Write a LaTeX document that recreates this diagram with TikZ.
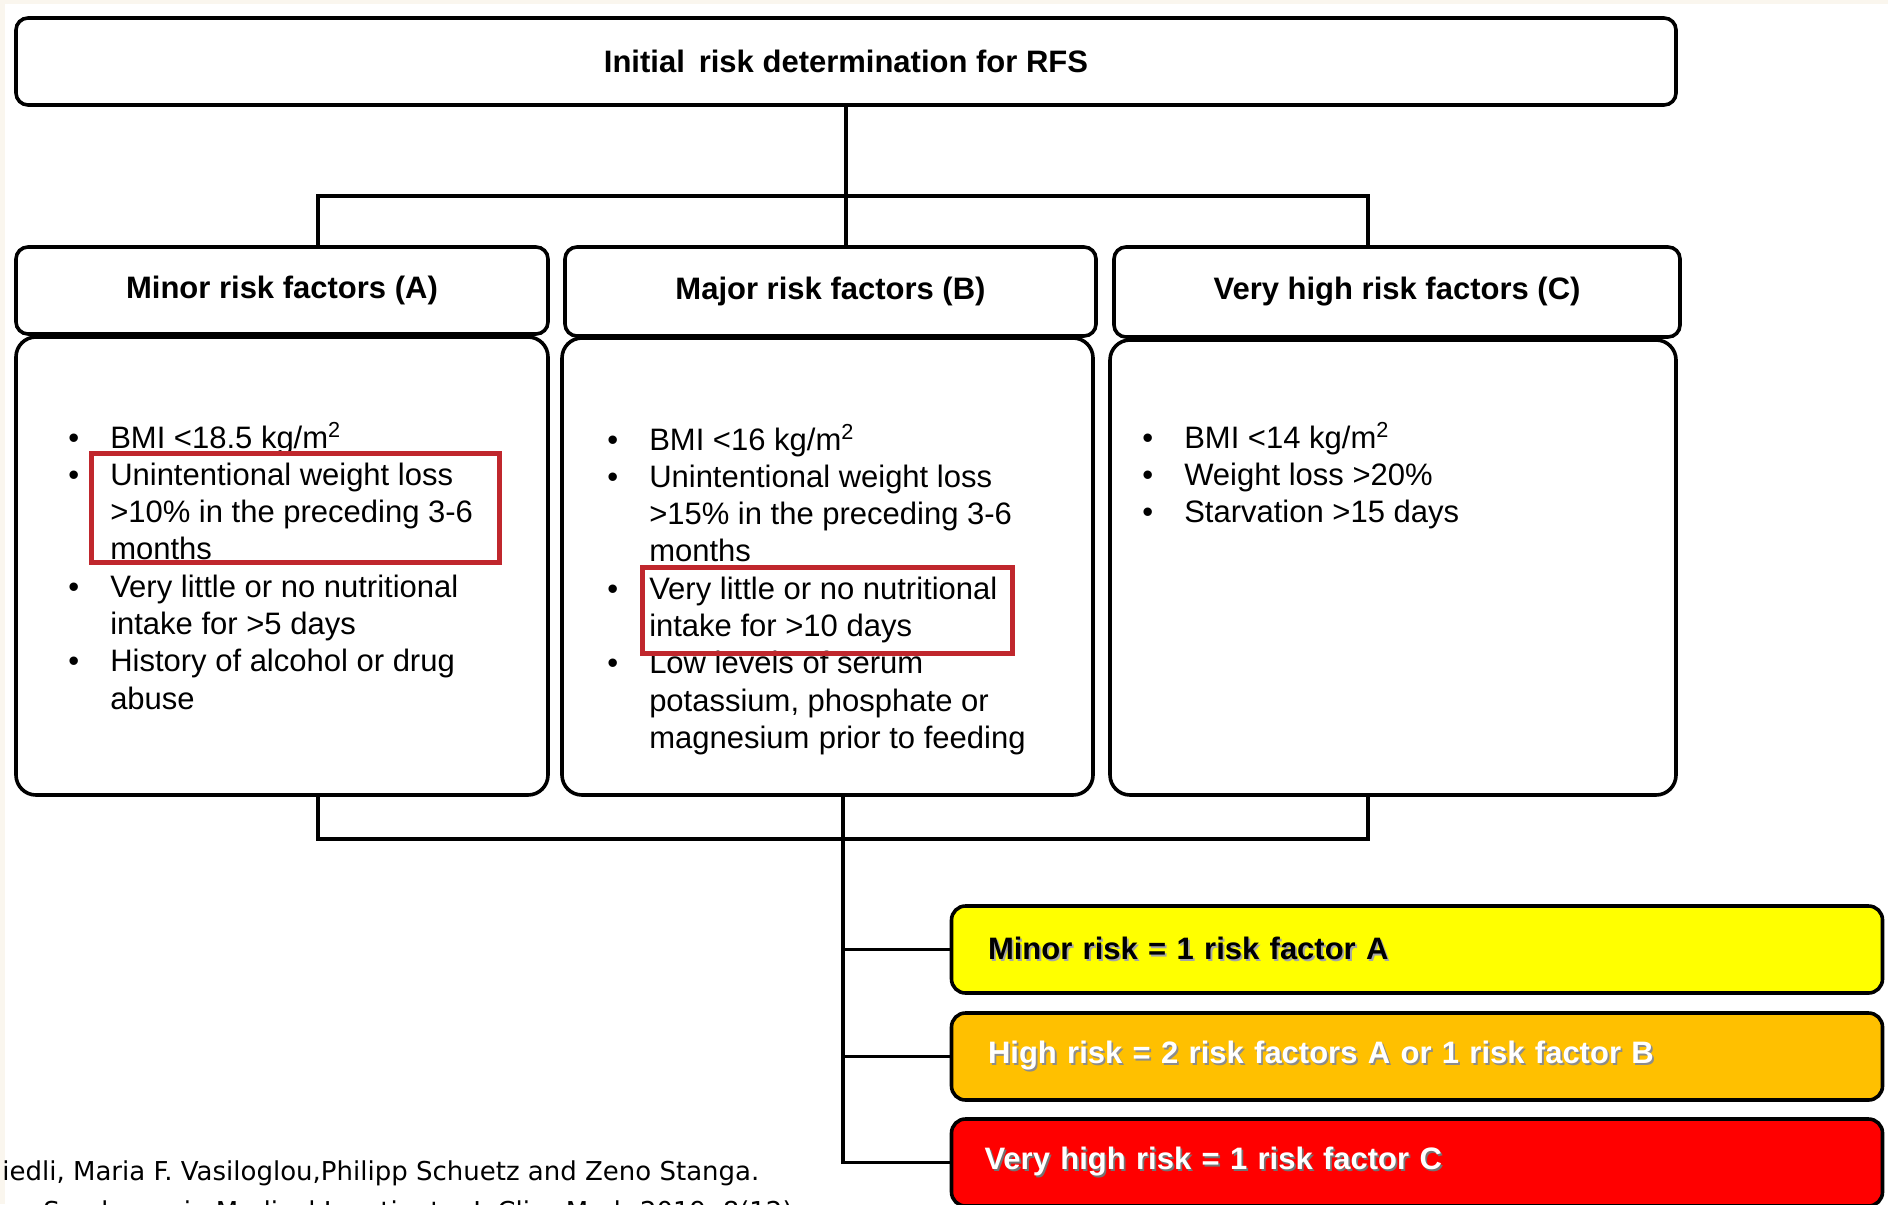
\documentclass[tikz,border=0pt]{standalone}
\usepackage{fontspec}
\setmainfont{Liberation Sans}
\newfontfamily\footfont{DejaVu Sans}
\definecolor{hlred}{RGB}{192,39,45}
\definecolor{ryellow}{RGB}{255,255,0}
\definecolor{rorange}{RGB}{255,192,0}
\definecolor{rred}{RGB}{255,0,0}
\definecolor{edgetint}{RGB}{250,246,238}
\newcommand{\shtext}[2]{\leavevmode\rlap{\hspace{0.9pt}\raisebox{-0.9pt}{\color{#1}#2}}#2}
\begin{document}
\begin{tikzpicture}[x=0.5pt,y=-0.5pt,
  box/.style={draw, line width=1.8pt, rounded corners=6pt, fill=white, inner sep=0pt},
  bodybox/.style={box, rounded corners=10pt},
  conn/.style={line width=1.6pt},
  hl/.style={draw=hlred, line width=2.6pt, inner sep=0pt},
  riskbox/.style={draw, line width=1.8pt, rounded corners=7pt, minimum width=465.5pt, minimum height=43.5pt, text width=429pt, inner xsep=18.25pt, inner ysep=0pt, align=left, font=\fontsize{15.5}{18}\selectfont\bfseries},
  hd/.style={font=\fontsize{15.5}{18}\selectfont\bfseries},
  lst/.style={anchor=base west, inner sep=0pt, font=\fontsize{15.5}{18.65}\selectfont},
  foot/.style={anchor=base west, inner sep=0pt, font=\footfont\fontsize{13}{15}\selectfont}
]
\useasboundingbox (0,0) rectangle (1888,1204);
\clip (0,0) rectangle (1888,1204);
\fill[white] (0,0) rectangle (1888,1204);
\fill[edgetint] (0,0) rectangle (1888,4);
\fill[edgetint] (0,0) rectangle (5,1204);

% top
\node[box, minimum width=830pt, minimum height=43.5pt, hd] (top) at (846,61.5) {Initial\hspace{0.45em}risk determination for RFS};

% headers
\node[box, minimum width=266pt, minimum height=43.5pt, hd] (hA) at (282,290.5) {Minor risk factors (A)};
\node[box, minimum width=265.5pt, minimum height=44.5pt, hd] (hB) at (830.5,291.5) {Major risk factors (B)};
\node[box, minimum width=283pt, minimum height=45pt, hd] (hC) at (1397,292) {Very high risk factors (C)};

% bodies
\node[bodybox, minimum width=266pt, minimum height=229pt] (bA) at (282,566) {};
\node[bodybox, minimum width=265.5pt, minimum height=228.5pt] (bB) at (827.5,566.5) {};
\node[bodybox, minimum width=283pt, minimum height=227.5pt] (bC) at (1393,567.5) {};

% lists
\node[lst] (lA) at (68,448) {\begin{tabular}[t]{@{}l@{\hspace{15.5pt}}l@{}}
\textbullet & BMI <18.5 kg/m\textsuperscript{2}\\
\textbullet & Unintentional weight loss\\
 & >10\% in the preceding 3-6\\
 & months\\
\textbullet & Very little or no nutritional\\
 & intake for >5 days\\
\textbullet & History of alcohol or drug\\
 & abuse
\end{tabular}};
\node[lst] (lB) at (607,450) {\begin{tabular}[t]{@{}l@{\hspace{15.5pt}}l@{}}
\textbullet & BMI <16 kg/m\textsuperscript{2}\\
\textbullet & Unintentional weight loss\\
 & >15\% in the preceding 3-6\\
 & months\\
\textbullet & Very little or no nutritional\\
 & intake for >10 days\\
\textbullet & Low levels of serum\\
 & potassium, phosphate or\\
 & magnesium\hspace{0.3em}prior to feeding
\end{tabular}};
\node[lst] (lC) at (1142,448) {\begin{tabular}[t]{@{}l@{\hspace{15.5pt}}l@{}}
\textbullet & BMI <14 kg/m\textsuperscript{2}\\
\textbullet & Weight loss >20\%\\
\textbullet & Starvation >15 days
\end{tabular}};

% highlights
\node[hl, minimum width=204pt, minimum height=54.5pt] (hlA) at (295.5,508) {};
\node[hl, minimum width=185pt, minimum height=43pt] (hlB) at (827.5,610.5) {};

% risk boxes
\node[riskbox, fill=ryellow] (yel) at (1417,949.5) {\shtext{black!35}{Minor risk = 1 risk factor A}};
\node[riskbox, fill=rorange, text=white] (org) at (1417,1056.5) {\shtext{black!45}{High risk = 2 risk factors A or 1 risk factor B}};
\node[riskbox, fill=rred, text=white, inner xsep=16.5pt, text width=432.5pt] (red) at (1417,1162.5) {\shtext{black!55}{Very high risk = 1 risk factor C}};

% connectors
\coordinate (busT) at (318,196);
\coordinate (busTR) at (1368,196);
\draw[conn] (top.south) -- (top.south |- hB.north);
\draw[conn] (busT |- hA.north) -- (busT) -- (busTR) -- (busTR |- hC.north);
\coordinate (busB) at (318,839);
\coordinate (busBR) at (1368,839);
\draw[conn] (busB |- bA.south) -- (busB) -- (busBR) -- (busBR |- bC.south);
\coordinate (trunk) at (843,839);
\draw[conn] (trunk |- bB.south) -- (trunk |- red.west) -- (red.west);
\draw[conn] (trunk |- yel.west) -- (yel.west);
\draw[conn] (trunk |- org.west) -- (org.west);

% footer
\node[foot] (ft1) at (2,1180) {iedli, Maria F. Vasiloglou,Philipp Schuetz and Zeno Stanga.};
\node[foot] (ft2) at (43,1220) {Syndrome in Medical Inpatients. J. Clin. Med. 2019, 8(12)};
\end{tikzpicture}
\end{document}
